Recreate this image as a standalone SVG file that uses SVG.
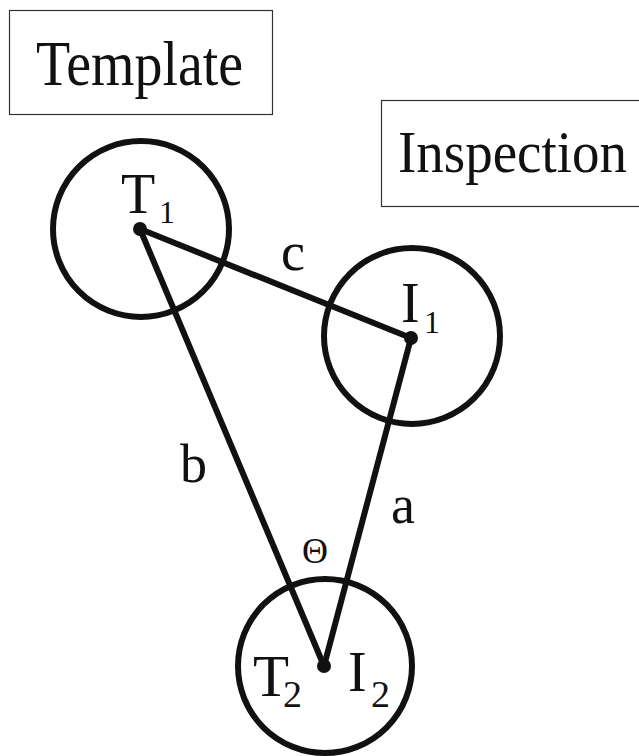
<svg xmlns="http://www.w3.org/2000/svg" width="639" height="756" viewBox="0 0 639 756">
<style>
.box{fill:#fff;stroke:#333;stroke-width:1.2}
.circ{fill:none;stroke:#111;stroke-width:6}
.ln{stroke:#111;stroke-width:6;stroke-linecap:round}
.dot{fill:#111}
text{font-family:"Liberation Serif","Times New Roman",serif;fill:#111}
.title{font-size:64px}
.lab{font-size:56px}
.sub{font-size:32px}
.sub2{font-size:38px}
.edge{font-size:54px}
.theta{font-size:36px}
</style>
<rect width="639" height="756" fill="#fff"/>
<g id="template">
<rect class="box" x="9.5" y="10.5" width="263" height="104"/>
<text class="title" x="36" y="85" textLength="207" lengthAdjust="spacingAndGlyphs">Template</text>
</g>
<g id="inspection">
<rect class="box" x="381.5" y="100.5" width="265" height="106"/>
<text class="title" x="398" y="172" style="font-size:59px" textLength="229" lengthAdjust="spacingAndGlyphs">Inspection</text>
</g>
<g id="connectors">
<line class="ln" x1="140" y1="229" x2="411" y2="338"/>
<line class="ln" x1="140" y1="229" x2="324" y2="666"/>
<line class="ln" x1="411" y1="338" x2="324" y2="666"/>
<text class="edge" x="281" y="270">c</text>
<text class="edge" x="180" y="482">b</text>
<text class="edge" x="391" y="523">a</text>
<text class="theta" x="302" y="563">Θ</text>
</g>
<g id="t1">
<circle class="circ" cx="141" cy="229" r="88"/>
<circle class="dot" cx="140" cy="229" r="7"/>
<text class="lab" x="121" y="213">T</text>
<text class="sub" x="159" y="223">1</text>
</g>
<g id="i1">
<circle class="circ" cx="412" cy="336" r="88"/>
<circle class="dot" cx="411" cy="338" r="7"/>
<text class="lab" x="401" y="322">I</text>
<text class="sub" x="424" y="333">1</text>
</g>
<g id="t2i2">
<circle class="circ" cx="325" cy="666" r="87"/>
<circle class="dot" cx="324" cy="666" r="7"/>
<text class="lab" x="253" y="696" style="font-size:59px">T</text>
<text class="sub2" x="283" y="707">2</text>
<text class="lab" x="348" y="691">I</text>
<text class="sub2" x="371" y="707">2</text>
</g>
</svg>
